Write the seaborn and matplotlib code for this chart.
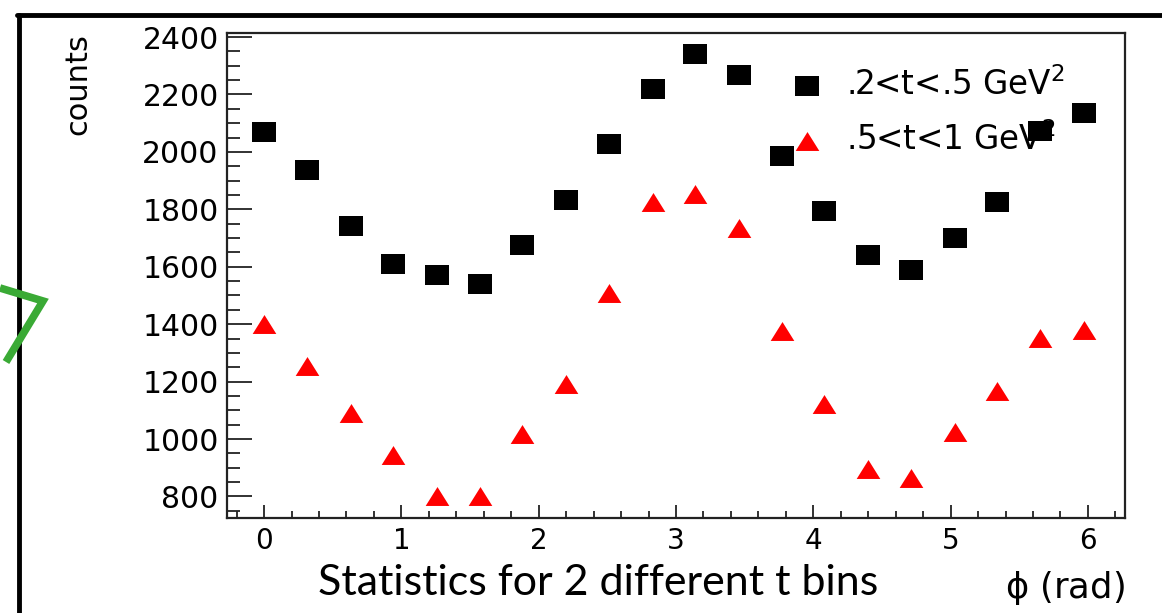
import matplotlib
matplotlib.use("Agg")
import matplotlib.pyplot as plt
import seaborn as sns
import pandas as pd
from matplotlib.lines import Line2D
from matplotlib.ticker import MultipleLocator

# azimuthal angle bins (rad)
phi = [0.00, 0.31, 0.63, 0.94, 1.26, 1.57, 1.88, 2.20, 2.51, 2.83,
       3.14, 3.46, 3.77, 4.08, 4.40, 4.71, 5.03, 5.34, 5.65, 5.97]

# counts per phi bin for the two t ranges
counts_low_t = [2070, 1937, 1743, 1610, 1572, 1541, 1677, 1833, 2028, 2219,
                2341, 2268, 1986, 1795, 1642, 1590, 1701, 1826, 2073, 2136]
counts_high_t = [1402, 1256, 1092, 943, 800, 800, 1019, 1190, 1510, 1826,
                 1854, 1736, 1377, 1123, 894, 863, 1026, 1169, 1353, 1381]

series_labels = [r".2<t<.5 GeV$^2$", r".5<t<1 GeV$^2$"]
y_ticks = [800, 1000, 1200, 1400, 1600, 1800, 2000, 2200, 2400]
x_ticks = [0, 1, 2, 3, 4, 5, 6]

sns.set_theme(style="white")
plt.rcParams["font.family"] = ["DejaVu Sans"]
plt.rcParams["mathtext.fontset"] = "dejavusans"
plt.rcParams["text.color"] = "black"
plt.rcParams["xtick.color"] = "#222222"
plt.rcParams["ytick.color"] = "#222222"
plt.rcParams["xtick.labelcolor"] = "black"
plt.rcParams["ytick.labelcolor"] = "black"

# slightly widened markers (ROOT canvas is stretched horizontally)
rect_marker = [(-1.0, -0.8), (1.0, -0.8), (1.0, 0.8), (-1.0, 0.8), (-1.0, -0.8)]
tri_marker = [(-1.0, -0.8), (1.0, -0.8), (0.0, 0.8), (-1.0, -0.8)]

W, H = 1162, 613
fig = plt.figure(figsize=(W / 100, H / 100), dpi=100)
ax = fig.add_axes([227 / W, 1 - 518 / H, (1125 - 227) / W, (518 - 33) / H])

low_df = pd.DataFrame({"phi": phi, "counts": counts_low_t})
high_df = pd.DataFrame({"phi": phi, "counts": counts_high_t})

sns.scatterplot(data=low_df, x="phi", y="counts", marker=rect_marker,
                color="black", s=295, linewidth=0, label=series_labels[0], ax=ax)
sns.scatterplot(data=high_df, x="phi", y="counts", marker=tri_marker,
                color="#ff0000", s=290, linewidth=0, label=series_labels[1], ax=ax)

ax.set_xlim(-0.27, 6.27)
ax.set_ylim(725, 2414)
ax.set_xticks(x_ticks)
ax.set_yticks(y_ticks)
ax.xaxis.set_minor_locator(MultipleLocator(0.2))
ax.yaxis.set_minor_locator(MultipleLocator(50))
ax.set_xlabel("")
ax.set_ylabel("")

ax.tick_params(axis="y", which="major", direction="in", length=18, width=1.3,
               labelsize=21.5, pad=6.0)
ax.tick_params(axis="y", which="minor", direction="in", length=9.5, width=1.3)
ax.tick_params(axis="x", which="major", direction="in", length=9.5, width=1.3,
               labelsize=20, pad=6.5)
ax.tick_params(axis="x", which="minor", direction="in", length=5, width=1.3)
ax.tick_params(left=True, bottom=True, right=False, top=False, which="both")

for sp in ax.spines.values():
    sp.set_visible(True)
    sp.set_color("#222222")
    sp.set_linewidth(1.6)

ax.legend(frameon=False, loc="upper left", bbox_to_anchor=(0.628, 0.93),
          borderpad=0, borderaxespad=0, handlelength=1.0, handletextpad=0.68,
          labelspacing=0.62, fontsize=23.5)

ax.text(-0.166, 1.0, "counts", transform=ax.transAxes, rotation=90,
        ha="center", va="top", fontsize=22)

fig.text(1125 / W, 1 - 588 / H, r"$\mathregular{\phi}$ (rad)", ha="right",
         va="center", fontsize=25.5)

fig.text(318 / W, 1 - 595 / H, "Statistics for 2 different t bins",
         ha="left", va="baseline", fontsize=31, family=["Lato", "DejaVu Sans"],
         fontweight="normal", color="black")

# slide frame
fig.add_artist(Line2D([17 / W, 1.0], [1 - 15 / H, 1 - 15 / H],
                      transform=fig.transFigure, color="black", lw=3.5))
fig.add_artist(Line2D([19 / W, 19 / W], [1 - 15 / H, 0.0],
                      transform=fig.transFigure, color="black", lw=3.5))

# hand-drawn check mark
fig.add_artist(Line2D([0 / W, 43 / W, 6 / W],
                      [1 - 288 / H, 1 - 301 / H, 1 - 362 / H],
                      transform=fig.transFigure, color="#3aaa35", lw=5.5,
                      solid_joinstyle="miter", solid_capstyle="butt"))

fig.savefig("out.png", dpi=100)
